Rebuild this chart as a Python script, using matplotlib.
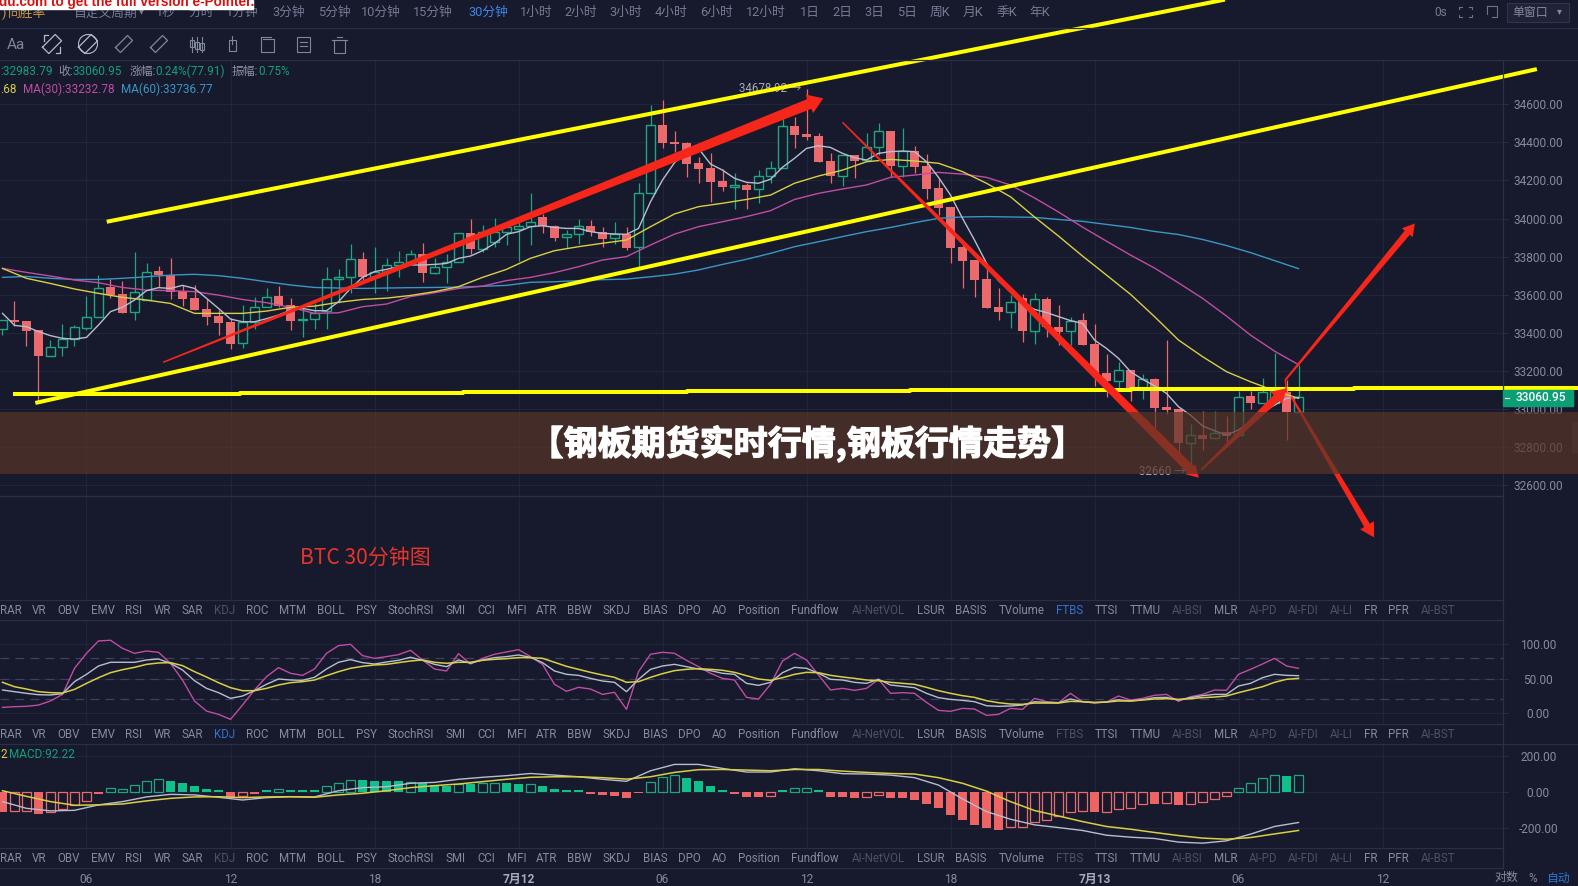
import matplotlib
matplotlib.use('Agg')
import matplotlib.pyplot as plt
import matplotlib.patheffects as pe
from matplotlib.patches import Rectangle
import numpy as np

plt.rcParams['font.family'] = ['Roboto', 'Noto Sans CJK SC', 'DejaVu Sans']

W, H = 1578, 886
BG = '#161a2c'
GRID = '#212539'
SEP = '#2b2f45'
TXT = '#858a9f'
DIM = '#4d5165'
BLUE = '#2f74d0'
RED = '#ec6a6c'
GREEN = '#1fa57f'
ARROW = '#f7261a'
YELLOW = '#ffff00'

# candles, one per 30 minutes, index 0 is the first "06" tick
idx = list(range(-7, 102))
opens = [33418, 33467, 33462, 33414, 33280, 33327, 33365, 33427, 33484, 33638, 33603, 33507, 33572, 33724, 33703, 33619,
         33581, 33523, 33488, 33456, 33344, 33458, 33537, 33593, 33544, 33465, 33470, 33516, 33684, 33691, 33785, 33694,
         33719, 33754, 33770, 33812, 33712, 33743, 33770, 33922, 33840, 33878, 33931, 33947, 33961, 34010, 33960, 33901,
         33917, 33960, 33927, 33896, 33917, 33849, 34132, 34491, 34401, 34398, 34290, 34263, 34197, 34167, 34176, 34153,
         34225, 34267, 34484, 34443, 34433, 34302, 34225, 34331, 34307, 34377, 34457, 34275, 34353, 34275, 34160, 34058,
         33848, 33780, 33680, 33534, 33511, 33581, 33411, 33577, 33429, 33408, 33467, 33341, 33189, 33149, 33205, 33108,
         33157, 33010, 32998, 32823, 32863, 32846, 32877, 32862, 33066, 33033, 33033, 33091, 32983.79]
highs = [33467, 33567, 33462, 33414, 33362, 33446, 33441, 33593, 33703, 33680, 33672, 33822, 33764, 33752, 33791, 33651,
         33651, 33577, 33519, 33476, 33546, 33586, 33637, 33645, 33581, 33534, 33555, 33743, 33733, 33864, 33826, 33848,
         33791, 33831, 33834, 33870, 33791, 33814, 33925, 33997, 33966, 34001, 33966, 34010, 34132, 34024, 33966, 33940,
         33999, 33992, 33957, 33980, 33957, 34188, 34597, 34622, 34461, 34403, 34321, 34342, 34260, 34237, 34185, 34255,
         34302, 34520, 34531, 34678.92, 34447, 34342, 34331, 34333, 34450, 34500, 34457, 34473, 34380, 34338, 34211, 34058,
         33861, 33780, 33747, 33633, 33598, 33604, 33611, 33586, 33546, 33481, 33506, 33444, 33289, 33248, 33205, 33182,
         33161, 33362, 32998, 32919, 32991, 32989, 32963, 33094, 33094, 33161, 33292, 33152, 33231]
lows = [33388, 33435, 33330, 33033, 33280, 33278, 33330, 33415, 33484, 33581, 33505, 33467, 33572, 33642, 33577, 33540,
        33519, 33441, 33388, 33316, 33320, 33418, 33535, 33534, 33415, 33380, 33418, 33422, 33555, 33607, 33677, 33607,
        33621, 33694, 33770, 33667, 33708, 33660, 33770, 33812, 33826, 33852, 33861, 33779, 33861, 33922, 33883, 33843,
        33866, 33908, 33852, 33866, 33834, 33744, 34132, 34372, 34347, 34216, 34188, 34085, 34146, 34050, 34051, 34083,
        34185, 34267, 34372, 34412, 34296, 34188, 34170, 34211, 34307, 34333, 34216, 34220, 34237, 34100, 34018, 33768,
        33633, 33590, 33532, 33467, 33423, 33353, 33341, 33376, 33336, 33336, 33336, 33121, 33061, 33108, 33044, 33052,
        32898, 32972, 32771, 32660, 32785, 32846, 32828, 32862, 33000, 33030, 33021, 32837, 32983]
closes = [33467, 33456, 33409, 33278, 33327, 33367, 33428, 33484, 33637, 33596, 33505, 33612, 33721, 33703, 33616, 33577,
          33519, 33484, 33453, 33341, 33456, 33537, 33590, 33540, 33464, 33470, 33505, 33684, 33691, 33785, 33694, 33721,
          33754, 33770, 33813, 33712, 33743, 33770, 33922, 33840, 33931, 33931, 33954, 33959, 33983, 33960, 33899, 33917,
          33960, 33931, 33894, 33918, 33847, 34132, 34489, 34398, 34393, 34286, 34260, 34193, 34165, 34176, 34150, 34225,
          34267, 34484, 34438, 34428, 34296, 34225, 34331, 34304, 34377, 34457, 34275, 34353, 34268, 34156, 34057, 33847,
          33777, 33677, 33532, 33511, 33563, 33411, 33576, 33429, 33406, 33464, 33336, 33187, 33149, 33203, 33108, 33156,
          33007, 32996, 32823, 32862, 32842, 32876, 32858, 33065, 33033, 33091, 33094, 32982, 33060.95]

ma_white = [33502, 33439, 33432, 33406, 33385, 33371, 33367, 33376, 33441, 33511, 33534, 33572, 33621, 33637, 33633, 33649,
            33633, 33581, 33528, 33472, 33458, 33458, 33474, 33493, 33519, 33528, 33516, 33516, 33563, 33633, 33691, 33721,
            33733, 33747, 33756, 33756, 33759, 33764, 33791, 33803, 33831, 33869, 33917, 33931, 33957, 33962, 33953, 33948,
            33948, 33931, 33922, 33919, 33917, 33948, 34088, 34202, 34293, 34351, 34368, 34286, 34254, 34211, 34190, 34185,
            34206, 34269, 34316, 34368, 34382, 34373, 34342, 34319, 34307, 34342, 34351, 34354, 34351, 34298, 34216, 34123,
            34001, 33887, 33765, 33674, 33616, 33555, 33523, 33506, 33485, 33464, 33450, 33362, 33318, 33266, 33196, 33156,
            33122, 33082, 33012, 32968, 32911, 32886, 32863, 32890, 32933, 32981, 33021, 33056, 33061]

# the slower averages and the MACD lines were read every second candle
ma_idx = list(range(-7, 102, 2))
ma_yellow = [33738, 33686, 33659, 33630, 33607, 33586, 33572, 33554, 33502, 33502, 33502, 33514, 33534, 33540, 33560, 33575,
             33582, 33596, 33616, 33642, 33691, 33733, 33791, 33831, 33852, 33870, 33887, 33957, 34024, 34062, 34080, 34100,
             34123, 34185, 34223, 34254, 34298, 34310, 34302, 34290, 34246, 34185, 34114, 34008, 33908, 33803, 33703, 33602,
             33485, 33362, 33275, 33196, 33143, 33096, 33056]
ma_pink = [33738, 33717, 33698, 33677, 33663, 33638, 33624, 33621, 33616, 33598, 33575, 33558, 33534, 33502, 33505, 33537,
           33551, 33590, 33610, 33633, 33645, 33674, 33691, 33716, 33747, 33782, 33800, 33861, 33918, 33957, 33983, 34010,
           34041, 34100, 34132, 34155, 34176, 34216, 34228, 34242, 34233, 34216, 34176, 34108, 34034, 33955, 33881, 33808,
           33740, 33662, 33581, 33488, 33388, 33304, 33232.78]
ma_blue = [33691, 33696, 33686, 33680, 33680, 33686, 33694, 33703, 33707, 33700, 33686, 33668, 33651, 33638, 33635, 33633,
           33635, 33637, 33638, 33640, 33644, 33649, 33665, 33668, 33674, 33679, 33682, 33694, 33708, 33730, 33759, 33786,
           33817, 33852, 33878, 33905, 33931, 33953, 33978, 34001, 34008, 34010, 34008, 34006, 33995, 33985, 33969, 33953,
           33932, 33916, 33890, 33858, 33821, 33779, 33736.77]

# trend lines drawn by hand on the chart, x in candles, y in price
channel_top_x = [1.85, 94.7]
channel_top_p = [33985, 35147]
channel_low_x = [-4.1, 120.7]
channel_low_p = [33034, 34782]
support_x = [-5.96, 12.8, 31.4, 50, 68.6, 87, 105.6, 124.3]
support_p = [33080, 33084, 33088, 33094.5, 33100, 33105, 33110, 33110]
arrows = {
    'up': ([6.38, 61.4], [33245, 34631], 1.5, 10.5, 15, 20),
    'down': ([63.0, 92.7], [34505, 32639], 1.5, 9.5, 12, 14),
    'rebound': ([92.9, 100.0], [32680, 33109], 1.5, 8, 14, 17),
    'next_up': ([99.9, 110.7], [33152, 33974], 2, 6.5, 12, 14),
    'next_down': ([100.4, 107.3], [33065, 32326], 2, 6.5, 14, 16),
}

price_ticks = list(range(32600, 34601, 200))

kdj_j = [7.8, 8.8, 9.3, 11.2, 17.1, 26.8, 64.9, 86.8, 104.9, 105.9, 94.1, 86.8, 90.2, 88.3, 72.2, 47.8, 17.1, 2.4, -2.4, -9.8,
         11.2, 33.2, 52.7, 65.9, 57.6, 54.6, 63.9, 86.8, 98, 100, 83.4, 79.5, 82, 84.9, 91.2, 77.1, 63.9, 61, 86.3, 71.2, 79.5,
         85.4, 88.8, 92.2, 82, 70.7, 41.5, 31.2, 37.1, 34.6, 26.8, 29.8, 4.9, 60, 85.4, 88.3, 86.8, 76.6, 67.3, 57.6, 50.2, 47.8,
         22.4, 20, 41.5, 75.6, 86.8, 77.1, 55.1, 33.2, 35.6, 32.7, 35.6, 48.8, 28.3, 29.3, 28.3, 15.1, 3.4, 2, 6.3, 5.4, -3.9,
         -2.4, 6.3, 4.9, 21, 16.1, 14.6, 28.3, 16.1, 14.1, 15.6, 24.4, 18.5, 21, 25.4, 26.8, 16.6, 23.4, 26.8, 33.2, 32.7, 56.1,
         63.4, 71.2, 79.5, 68.3, 64.9]
kdj_k = [33.2, 30.7, 28.3, 26.3, 25.9, 27.8, 45.4, 56.1, 68.3, 73.7, 73.7, 73.7, 77.1, 78.5, 72.2, 62.4, 46.8, 35.6, 29.3, 21,
         24.4, 32.2, 41.5, 49.3, 47.8, 47.3, 51.7, 63.9, 73.7, 77.6, 73.2, 71.2, 74.1, 76.6, 81, 76.6, 70.7, 67.3, 77.1, 72.2,
         77.1, 80.5, 82, 84.4, 81, 73.2, 61, 56.1, 54.6, 50.2, 46.3, 44.4, 30.7, 48.8, 63.4, 68.3, 70.7, 67.3, 63.9, 61.5, 57.6,
         56.1, 42.9, 40, 44.4, 58.5, 66.3, 64.9, 57.6, 48.8, 47.8, 44.4, 42.9, 48.8, 40.5, 38.5, 36.6, 28.3, 22, 19.5, 18, 16.1,
         10.2, 9.3, 9.8, 11.2, 16.1, 15.1, 14.6, 20, 16.1, 14.6, 15.6, 19, 17.1, 19, 22, 22.4, 18.5, 22, 24.9, 26.8, 26.8, 39,
         42.9, 51.2, 56.1, 54.6, 54.1]
kdj_d = [44.4, 38, 34.6, 30.7, 29.3, 28.8, 34.1, 42.9, 51.2, 58.5, 62.9, 66.3, 70.7, 72.7, 73.2, 68.8, 60, 52.2, 43.9, 36.6,
         32.2, 32.2, 35.6, 40.5, 43.9, 45.4, 47.8, 54.1, 60, 64.9, 67.8, 69.8, 70.7, 73.2, 75.6, 77.1, 73.7, 72.2, 73.7, 73.7,
         76.6, 78, 79, 80.5, 80.5, 79.5, 73.7, 67.8, 63.4, 59, 55.1, 51.7, 44.4, 45.4, 51.7, 57.1, 61.5, 63.4, 64.4, 63.4, 62, 59,
         54.1, 49.3, 47.3, 51.2, 56.1, 59, 58.5, 54.6, 52.2, 50.2, 47.8, 46.8, 44.4, 42.9, 41.5, 37.1, 32.2, 28.3, 24.9, 22.4,
         17.6, 14.6, 12.7, 12.2, 14.1, 14.1, 14.1, 16.6, 16.1, 15.1, 15.6, 17.1, 17.1, 18.5, 20, 20.5, 19.5, 20.5, 22, 22.9, 24.4,
         29.3, 33.7, 38, 44.4, 48.8, 50.2]

macd_hist = [-108, -104, -104, -119, -112, -95, -73, -48, -9, 20, 18, 37, 60, 70, 60, 49, 31, 16, 11, -27, -20, -9, 9, 15, 9, 9, 9,
             31, 48, 64, 66, 60, 60, 59, 57, 51, 40, 33, 46, 46, 48, 48, 49, 42, 42, 31, 16, 9, 9, -11, -16, -20, -33, -7, 57, 82, 92,
             77, 60, 31, 9, -11, -27, -27, -20, 11, 20, 20, 11, -27, -27, -33, -26, -15, -33, -33, -44, -66, -88, -126, -154, -181,
             -201, -207, -194, -194, -163, -152, -132, -108, -102, -108, -108, -92, -86, -64, -66, -59, -71, -64, -57, -37, -20, 20,
             48, 75, 92, 88, 92.22]
macd_filled = [-7, -4, 1, 7, 8, 9, 10, 11, 12, 14, 15, 17, 18, 19, 23, 24, 25, 26, 28, 29, 30, 32, 35, 36, 38, 39, 40, 41, 42, 43, 44,
               45, 46, 50, 51, 52, 53, 54, 55, 56, 58, 61, 62, 63, 64, 67, 68, 69, 70, 71, 72, 73, 74, 75, 76, 84, 89, 91, 100]
macd_dif = [-53, -90, -104, -101, -71, -53, -27, -13, -16, -29, -44, -31, -26, -27, 7, 24, 29, 48, 53, 70, 81, 90, 102, 93, 84, 70, 59,
            117, 152, 152, 130, 110, 110, 128, 117, 101, 99, 93, 79, 38, -38, -108, -150, -181, -196, -212, -238, -249, -256, -276,
            -282, -269, -232, -190, -168]
macd_dea = [7, -24, -53, -73, -71, -66, -49, -35, -27, -26, -31, -27, -26, -29, -16, -7, 7, 24, 35, 44, 57, 70, 81, 84, 84, 79, 71, 84,
            108, 123, 124, 121, 117, 124, 124, 115, 108, 102, 99, 79, 48, 5, -53, -102, -132, -163, -190, -205, -223, -240, -254, -260,
            -251, -231, -212]

time_ticks = list(range(0, 109, 12))
time_labels = ['06', '12', '18', '7月12', '06', '12', '18', '7月13', '06', '12']

tabs = ['RAR', 'VR', 'OBV', 'EMV', 'RSI', 'WR', 'SAR', 'KDJ', 'ROC', 'MTM', 'BOLL', 'PSY', 'StochRSI', 'SMI', 'CCI', 'MFI', 'ATR', 'BBW',
        'SKDJ', 'BIAS', 'DPO', 'AO', 'Position', 'Fundflow', 'AI-NetVOL', 'LSUR', 'BASIS', 'TVolume', 'FTBS', 'TTSI', 'TTMU', 'AI-BSI',
        'MLR', 'AI-PD', 'AI-FDI', 'AI-LI', 'FR', 'PFR', 'AI-BST']
tab_x = [11, 39, 68, 102, 133, 161, 191, 223, 256, 291, 329, 364, 408, 453, 483, 513, 543, 576, 613, 651, 685, 715, 754, 810, 873, 925,
         965, 1015, 1063, 1099, 1138, 1180, 1218, 1255, 1295, 1333, 1362, 1390, 1429]
tabs_dim = ['KDJ', 'AI-NetVOL', 'FTBS', 'AI-BSI', 'AI-PD', 'AI-FDI', 'AI-LI', 'AI-BST']

periods = ['1秒', '分时', '1分钟', '3分钟', '5分钟', '10分钟', '15分钟', '30分钟', '1小时', '2小时', '3小时', '4小时', '6小时', '12小时',
           '1日', '2日', '3日', '5日', '周K', '月K', '季K', '年K']
period_x = [165, 200, 241, 287, 332, 378, 430, 485, 533, 577, 622, 667, 712, 761, 805, 837, 869, 901, 934, 967, 1000, 1033]


fig = plt.figure(figsize=(W / 100, H / 100), dpi=100, facecolor=BG)


def panel(y0, y1):
    ax = fig.add_axes([0, 1 - y1 / H, 1503.5 / W, (y1 - y0) / H], facecolor=BG)
    ax.set_xlim(-86.5 / 12, (1503.5 - 86.5) / 12)
    ax.grid(color=GRID, lw=0.8)
    ax.set_axisbelow(True)
    for s in ax.spines.values():
        s.set_visible(False)
    ax.yaxis.tick_right()
    ax.tick_params(axis='y', length=3, width=0.7, color=SEP, labelcolor=TXT, labelsize=8.6, pad=22)
    ax.set_xticks(time_ticks)
    ax.tick_params(axis='x', length=0, labelbottom=False)
    return ax


def center_ticks(ax, ticks, fmt='%.2f'):
    ax.set_yticks(ticks)
    ax.set_yticklabels([fmt % t for t in ticks], ha='center')


# price panel
ax1 = panel(60, 600)
ax1.set_ylim(34600 - (600 - 104.2) / 0.1905, 34600 + (104.2 - 60) / 0.1905)
center_ticks(ax1, price_ticks)
ax1.axhline(32544, color=SEP, lw=1)

ax1.vlines(idx, lows, highs, color=[GREEN if c >= o else RED for o, c in zip(opens, closes)], lw=0.9, zorder=2)
for i, o, c in zip(idx, opens, closes):
    if c >= o:
        ax1.bar(i, max(c - o, 8), bottom=o, width=0.68, facecolor=BG, edgecolor=GREEN, lw=1, zorder=3)
    else:
        ax1.bar(i, o - c, bottom=c, width=0.74, color=RED, zorder=3)

ax1.plot(ma_idx, ma_blue, color='#3a96c4', lw=1, zorder=4)
ax1.plot(ma_idx, ma_pink, color='#bf4da3', lw=1, zorder=4)
ax1.plot(ma_idx, ma_yellow, color='#d9cf45', lw=1, zorder=4)
ax1.plot(idx, ma_white, color='#b9bdd2', lw=1, zorder=4)

hi = int(np.argmax(highs))
lo = int(np.argmin(lows))
ax1.text(idx[hi] - 0.4, highs[hi] + 4, '%.2f →' % highs[hi], color='#a6aaba', fontsize=8.3, ha='right', va='center', zorder=3)
ax1.text(idx[lo] - 0.4, lows[lo] + 10, '%d →' % lows[lo], color='#a6aaba', fontsize=8.3, ha='right', va='center', zorder=3)

ax1.plot(channel_top_x, channel_top_p, color=YELLOW, lw=2.9, clip_on=False, zorder=5)
ax1.plot(channel_low_x, channel_low_p, color=YELLOW, lw=2.9, clip_on=False, zorder=5)
ax1.step(support_x, support_p, where='post', color=YELLOW, lw=2.9, clip_on=False, zorder=5)


def taper_arrow(ax, xs, ps, w0, w1, head_len, head_w):
    a, b = ax.transData.transform(list(zip(xs, ps)))
    d = (b - a) / np.hypot(*(b - a))
    n = np.array([-d[1], d[0]])
    neck = b - d * head_len
    poly = np.array([a + n * w0 / 2, neck + n * w1 / 2, neck + n * head_w / 2, b,
                     neck - n * head_w / 2, neck - n * w1 / 2, a - n * w0 / 2])
    pts = ax.transData.inverted().transform(poly)
    ax.fill(pts[:, 0], pts[:, 1], color=ARROW, lw=0, clip_on=False, zorder=6)


for name in arrows:
    xs, ps, w0, w1, hl, hw = arrows[name]
    taper_arrow(ax1, xs, ps, w0, w1, hl, hw)
ax1.plot([99.9, 100.0], [33152, 33090], color=ARROW, lw=1, zorder=6)

# KDJ panel
ax2 = panel(620, 724)
ax2.set_ylim((712.7 - 724) / 0.684, (712.7 - 620) / 0.684)
center_ticks(ax2, [0, 50, 100])
for v in [20, 50, 80]:
    ax2.axhline(v, color='#3e4160', lw=0.9, dashes=(7, 5))
ax2.plot(idx, kdj_j, color='#bf4da3', lw=1)
ax2.plot(idx, kdj_k, color='#b9bdd2', lw=1)
ax2.plot(idx, kdj_d, color='#d9cf45', lw=1.1)

# MACD panel
ax3 = panel(744, 848)
ax3.set_ylim(-(848 - 792) / 0.1815, (792 - 744) / 0.1815)
center_ticks(ax3, [-200, 0, 200])
for i, v in zip(idx, macd_hist):
    c = GREEN if v > 0 else RED
    fill = '#10c088' if v > 0 else '#ee6462'
    if i in macd_filled:
        ax3.bar(i, v, width=0.74, color=fill, zorder=3)
    else:
        ax3.bar(i, v, width=0.68, facecolor='none', edgecolor=c, lw=0.9, zorder=3)
ax3.plot(ma_idx, macd_dif, color='#b9bdd2', lw=1, zorder=4)
ax3.plot(ma_idx, macd_dea, color='#d9cf45', lw=1.1, zorder=4)
ax3.tick_params(axis='x', labelbottom=True, labelcolor=TXT, labelsize=8.6, pad=18)
ax3.set_xticklabels(time_labels)
for lab in ax3.get_xticklabels():
    if '月' in lab.get_text():
        lab.set_fontweight('bold')
        lab.set_color('#a6aaba')

# everything around the chart, in pixels of the picture
ui = fig.add_axes([0, 0, 1, 1], zorder=5)
ui.set_xlim(0, W)
ui.set_ylim(H, 0)
ui.axis('off')
S = W / 1568

for y in [28, 60, 600, 620, 724, 848, 868]:
    ui.plot([0, 1503.5 if y > 60 else W], [y, y], color=SEP, lw=0.9)
ui.plot([0, W], [744, 744], color=SEP, lw=0.9)
ui.plot([1503.5, 1503.5], [60, 868], color=SEP, lw=0.9)

for y, active in [(610, 'FTBS'), (734.5, 'KDJ'), (858.5, None)]:
    for t, x in zip(tabs, tab_x):
        c = BLUE if t == active else DIM if t in tabs_dim else TXT
        ui.text(x * S, y, t, color=c, fontsize=8.3, ha='center', va='center')

for t, x in zip(periods, period_x):
    ui.text(x * S, 12.5, t, color='#3f86e8' if t == '30分钟' else '#747b95', fontsize=9.2, ha='center', va='center')
ui.text(105 * S, 13, '自定义周期', color='#747b95', fontsize=9.2, ha='center', va='center')
ui.text(141 * S, 11, '▾', color='#747b95', fontsize=7, ha='center', va='center', family='DejaVu Sans')
ui.text(27, 13, '同胜率', color='#c99a45', fontsize=9.2, ha='center', va='center')
ui.text(2, 13, ')', color='#c99a45', fontsize=9.2, ha='left', va='center')
box = Rectangle((0, 0), 253, 8.8, color='white', zorder=8)
ui.add_patch(box)
mark = ui.text(-1, 1.5, 'du.com to get the full version e-Pointer.', color='#d81010', fontsize=9.8, fontweight='bold',
               ha='left', va='center', family='Liberation Sans', zorder=9)
mark.set_clip_path(box)

ui.text(1441, 12.5, '0s', color='#747b95', fontsize=8.6, ha='center', va='center')
ui.add_patch(Rectangle((1507, 3), 62, 18.5, fc='#1f2338', ec='#2f3450', lw=0.8))
ui.text(1530, 12.5, '单窗口', color='#858a9f', fontsize=8.6, ha='center', va='center')
ui.text(1559, 11.5, '▾', color='#858a9f', fontsize=7, ha='center', va='center', family='DejaVu Sans')
ui.plot([1459, 1459, 1462], [9, 7, 7], color='#6d738a', lw=0.8)
ui.plot([1469, 1472, 1472], [7, 7, 9], color='#6d738a', lw=0.8)
ui.plot([1459, 1459, 1462], [15, 17, 17], color='#6d738a', lw=0.8)
ui.plot([1469, 1472, 1472], [17, 17, 15], color='#6d738a', lw=0.8)
ui.plot([1487, 1497, 1497, 1492], [6, 6, 17, 17], color='#6d738a', lw=0.8)
ui.plot([1487, 1487], [6, 14], color='#6d738a', lw=0.8)

# drawing toolbar
ICON = '#80869c'
ui.text(16, 44.5, 'Aa', color=ICON, fontsize=11, ha='center', va='center')
for cx in [52, 88, 124, 159]:
    t = np.radians(45)
    rx, ry = (9, 4.5) if cx < 120 else (8.5, 3.5)
    pts = np.array([[-rx, -ry], [rx, -ry], [rx, ry], [-rx, ry], [-rx, -ry]])
    px = cx + pts[:, 0] * np.cos(t) + pts[:, 1] * np.sin(t)
    py = 44 - pts[:, 0] * np.sin(t) + pts[:, 1] * np.cos(t)
    ui.plot(px, py, color='#b4b8c8' if cx < 100 else ICON, lw=0.9)
ui.plot([44, 44, 48], [41, 35, 35], color='#b4b8c8', lw=0.9)
ui.plot([56, 60, 60], [53, 53, 47], color='#b4b8c8', lw=0.9)
ui.add_patch(plt.Circle((88, 44), 9.5, fc='none', ec='#b4b8c8', lw=0.8))
for cx in [192, 197, 202]:
    ui.plot([cx, cx], [37, 52], color=ICON, lw=0.8)
    ui.add_patch(Rectangle((cx - 2, 40 + (cx - 192) / 3), 4, 7, fc=BG, ec=ICON, lw=0.8))
ui.add_patch(Rectangle((229, 40), 7, 11, fc='none', ec=ICON, lw=0.8))
ui.plot([232.5, 232.5], [36, 44], color=ICON, lw=0.8)
ui.plot([261, 261, 274, 274, 267.5, 263], [37, 52, 52, 39, 39, 39], color=ICON, lw=0.8)
ui.plot([261, 271], [37, 37], color=ICON, lw=0.8)
ui.add_patch(Rectangle((297, 37), 13, 15, fc='none', ec=ICON, lw=0.8))
ui.plot([300, 307], [42, 42], color=ICON, lw=0.8)
ui.plot([300, 307], [46, 46], color=ICON, lw=0.8)
ui.add_patch(Rectangle((334, 40), 11, 13, fc='none', ec=ICON, lw=0.8))
ui.plot([332, 347], [39.5, 39.5], color=ICON, lw=0.8)
ui.plot([337, 342], [36.5, 36.5], color=ICON, lw=0.8)

# legends
LBL = '#8c91a5'
VAL = '#12a07a'
for x, t, c in [(0, ':32983.79', VAL), (58, '收:', LBL), (73, '33060.95', VAL), (130, '涨幅:', LBL),
                (155, '0.24%(77.91)', VAL), (232, '振幅:', LBL), (258, '0.75%', VAL)]:
    ui.text(x, 71, t, color=c, fontsize=8.5, ha='left', va='center')
for x, t, c in [(0, '.68', '#d9cf45'), (23, 'MA(30):33232.78', '#bf4da3'), (121, 'MA(60):33736.77', '#3a96c4')]:
    ui.text(x, 89, t, color=c, fontsize=8.5, ha='left', va='center')
ui.text(0, 754.5, '2', color='#d9cf45', fontsize=8.5, ha='left', va='center')
ui.text(9, 754.5, 'MACD:92.22', color=VAL, fontsize=8.5, ha='left', va='center')

ui.text(300, 558, 'BTC 30分钟图', color='#e5342a', fontsize=15.1, ha='left', va='center', family=['Noto Sans CJK SC', 'DejaVu Sans'])

ui.text(1497 * S, 878, '对数', color=TXT, fontsize=8.6, ha='center', va='center')
ui.text(1523 * S, 878, '%', color=TXT, fontsize=8.6, ha='center', va='center')
ui.text(1548 * S, 878, '自动', color=BLUE, fontsize=8.6, ha='center', va='center')

# last price tag
ui.add_patch(Rectangle((1503.5, 389.5), 70, 16, color='#0b9f76', zorder=3))
ui.plot([1505, 1509], [397.5, 397.5], color='white', lw=0.8, zorder=4)
ui.text(1541, 397.5, '%.2f' % closes[-1], color='white', fontsize=8.6, fontweight='medium', ha='center', va='center', zorder=4)
ui.add_patch(Rectangle((1572, 422), 6, 30, color='#2a2e42', zorder=3))

# banner over the chart
ui.add_patch(Rectangle((0, 411.5), W, 62.5, color='#583528', alpha=0.7, lw=0, zorder=6))
title = ui.text(807, 444, '【钢板期货实时行情,钢板行情走势】', color='white', fontsize=24.5, fontweight='bold', ha='center', va='center',
                family=['Noto Sans CJK SC', 'DejaVu Sans'], zorder=7)
title.set_path_effects([pe.withStroke(linewidth=0.9, foreground='white')])

plt.savefig('out.png', dpi=100, facecolor=BG)
